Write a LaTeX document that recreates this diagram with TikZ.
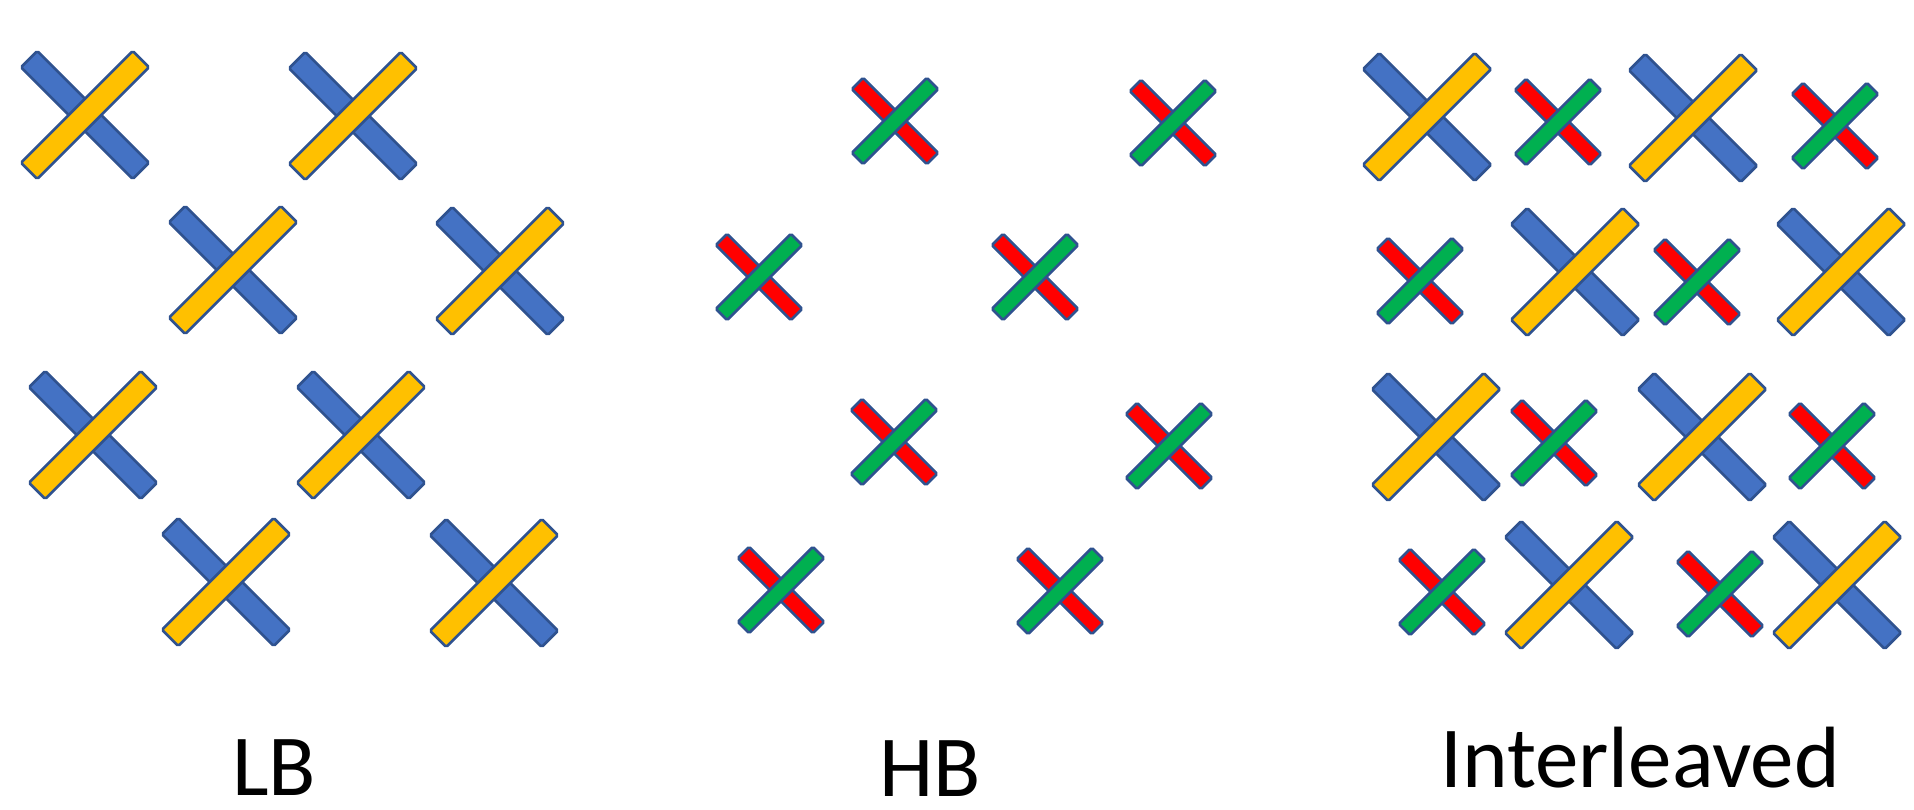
\documentclass[tikz,border=0pt]{standalone}
\usepackage{fontspec}
\setmainfont{Carlito}
\usepackage{tikz}
\definecolor{BarBlue}{HTML}{4472C4}
\definecolor{BarYellow}{HTML}{FFC000}
\definecolor{BarRed}{HTML}{FF0000}
\definecolor{BarGreen}{HTML}{00B050}
\definecolor{Edge}{HTML}{2F528F}

\begin{document}
\begin{tikzpicture}[
  x=1pt,y=-1pt,
  bar/.style={rectangle,draw=Edge,line width=2.6pt,rounded corners=1.5pt,inner sep=0pt},
  bigbar/.style={bar,minimum width=158pt,minimum height=23pt},
  smallbar/.style={bar,minimum width=106pt,minimum height=16pt},
  label/.style={font=\fontsize{87}{90}\selectfont,anchor=base,inner sep=0pt}
]
\useasboundingbox (0,0) rectangle (1914,809);
% big crosses (LB and interleaved)
\foreach \x/\y [count=\i] in {85/115,353/116,233/270,500/271,93/435,361/435,226/582,494/583,
    1427/117,1693/118,1575/272,1841/272,1436/437,1702/437,1569/585,1837/585} {
  \node[bigbar,fill=BarBlue,rotate=-45] (lo\i) at (\x,\y) {};
  \node[bigbar,fill=BarYellow,rotate=45] (lt\i) at (\x,\y) {};
}
% small crosses (HB and interleaved)
\foreach \x/\y [count=\i] in {895/121,1173/123,759/277,1035/277,894/442,1169/446,781/590,1060/591,
    1558/122,1835/126,1420/281,1697/282,1554/443,1832/446,1442/592,1720/594} {
  \node[smallbar,fill=BarRed,rotate=-45] (ho\i) at (\x,\y) {};
  \node[smallbar,fill=BarGreen,rotate=45] (ht\i) at (\x,\y) {};
}
\node[label] (lb) at (274,795) {LB};
\node[label] (hb) at (930,796) {HB};
\node[label] (il) at (1640,787) {Interleaved};
\end{tikzpicture}
\end{document}
